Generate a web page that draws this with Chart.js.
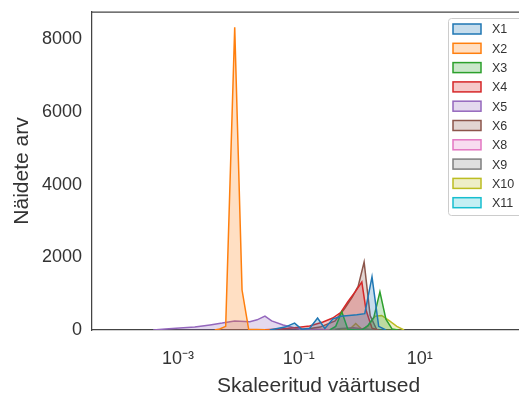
<!DOCTYPE html>
<html>
<head>
<meta charset="utf-8">
<script src="https://cdn.jsdelivr.net/npm/chart.js@4"></script>
<style>
  html, body { margin: 0; padding: 0; background: #fff; overflow: hidden; }
  #wrap { width: 519px; height: 394px; overflow: hidden; }
</style>
</head>
<body>
<div id="wrap"><canvas id="myChart" width="560" height="394"></canvas></div>
<script>
// series labels + colours (tab10)
var seriesLabels = ['X1', 'X2', 'X3', 'X4', 'X5', 'X6', 'X8', 'X9', 'X10', 'X11'];
var seriesColors = ['#1f77b4', '#ff7f0e', '#2ca02c', '#d62728', '#9467bd', '#8c564b', '#e377c2', '#7f7f7f', '#bcbd22', '#17becf'];

// x = scaled value (log axis), y = count
var x1X = [0.033, 0.059, 0.085, 0.112, 0.151, 0.204, 0.269, 0.363, 0.49, 0.676, 0.912, 1.23, 1.62, 2.09, 2.75];
var x1Y = [0, 80, 190, 20, 50, 330, 40, 300, 380, 400, 420, 450, 1460, 100, 0];

var x2X = [0.00407, 0.0049, 0.00617, 0.0087, 0.0115, 0.0148, 0.0204, 0.0275, 0.0398];
var x2Y = [0, 30, 100, 8330, 1100, 20, 15, 5, 0];

var x3X = [0.324, 0.407, 0.513, 0.646, 0.851, 1.10, 1.38, 1.74, 2.19, 2.75, 3.47, 4.37];
var x3Y = [0, 100, 500, 20, 0, 0, 120, 350, 1050, 300, 30, 0];

var x4X = [0.0155, 0.0275, 0.049, 0.085, 0.151, 0.251, 0.363, 0.49, 0.646, 0.851, 1.10, 1.29, 1.62, 2.09];
var x4Y = [0, 10, 30, 60, 110, 220, 330, 480, 780, 1050, 1320, 550, 50, 0];

var x5X = [0.00039, 0.00062, 0.00107, 0.0019, 0.0034, 0.0054, 0.0087, 0.0155, 0.0204, 0.0275, 0.0355, 0.055, 0.093, 0.151, 0.25];
var x5Y = [0, 30, 55, 80, 140, 190, 250, 230, 280, 380, 250, 140, 40, 5, 0];

var x6X = [0.105, 0.224, 0.398, 0.575, 0.759, 0.955, 1.20, 1.51, 1.95];
var x6Y = [0, 80, 250, 600, 900, 1200, 1870, 400, 0];

var x8X = [0.1, 0.2, 0.4];
var x8Y = [0, 20, 0];

var x9X = [0.3, 0.5, 0.8, 1.2, 1.8];
var x9Y = [0, 40, 60, 30, 0];

var x10X = [0.479, 0.692, 0.871, 1.10, 1.38, 1.82, 2.34, 3.16, 4.17, 5.50];
var x10Y = [0, 20, 180, 20, 100, 380, 400, 250, 100, 0];

var x11X = [0.5, 1.0, 2.0];
var x11Y = [0, 30, 0];

var seriesX = [x1X, x2X, x3X, x4X, x5X, x6X, x8X, x9X, x10X, x11X];
var seriesY = [x1Y, x2Y, x3Y, x4Y, x5Y, x6Y, x8Y, x9Y, x10Y, x11Y];

// ticks
var xTickValues = [0.001, 0.1, 10];
var xTickLabels = ['10\u207B\u00B3', '10\u207B\u00B9', '10\u00B9'];
var yTickValues = [0, 2000, 4000, 6000, 8000];

function hexA(hex, a) {
  var r = parseInt(hex.substr(1, 2), 16), g = parseInt(hex.substr(3, 2), 16), b = parseInt(hex.substr(5, 2), 16);
  return 'rgba(' + r + ',' + g + ',' + b + ',' + a + ')';
}

var datasets = [];
seriesLabels.forEach(function (lab, i) {
  var pts = [];
  seriesX[i].forEach(function (x, j) { pts.push({x: x, y: seriesY[i][j]}); });
  datasets.push({
    label: lab,
    data: pts,
    borderColor: seriesColors[i],
    backgroundColor: hexA(seriesColors[i], 0.25),
    borderWidth: 1.5,
    pointRadius: 0,
    tension: 0,
    fill: 'origin'
  });
});

const FONT = "'Liberation Sans', Arial, sans-serif";
const TXT = '#333333';

// top spine
const frameTop = {
  id: 'frameTop',
  afterDatasetsDraw(chart) {
    const ctx = chart.ctx, a = chart.chartArea;
    ctx.save();
    ctx.strokeStyle = '#444';
    ctx.lineWidth = 1.25;
    ctx.beginPath();
    ctx.moveTo(a.left, a.top);
    ctx.lineTo(a.right, a.top);
    ctx.stroke();
    ctx.restore();
  }
};

// matplotlib-like legend box, upper right
const legendBox = {
  id: 'legendBox',
  afterDraw(chart) {
    const ctx = chart.ctx, a = chart.chartArea;
    const x0 = a.right - 97, y0 = a.top + 6, w = 120, h = 197;
    ctx.save();
    ctx.fillStyle = 'rgba(255,255,255,0.8)';
    ctx.strokeStyle = '#cccccc';
    ctx.lineWidth = 1;
    ctx.beginPath();
    ctx.roundRect(x0 + 0.5, y0 + 0.5, w, h, 3);
    ctx.fill();
    ctx.stroke();
    ctx.font = '12.5px ' + FONT;
    ctx.textBaseline = 'middle';
    chart.data.datasets.forEach(function (ds, i) {
      const cy = y0 + 11 + i * 19.3;
      ctx.fillStyle = ds.backgroundColor;
      ctx.fillRect(x0 + 5, cy - 5, 28, 10);
      ctx.strokeStyle = ds.borderColor;
      ctx.lineWidth = 1.5;
      ctx.strokeRect(x0 + 5, cy - 5, 28, 10);
      ctx.fillStyle = TXT;
      ctx.fillText(ds.label, x0 + 44, cy + 1);
    });
    ctx.restore();
  }
};

const config = {
  type: 'line',
  data: { datasets: datasets },
  options: {
    responsive: false,
    animation: false,
    layout: { padding: { top: 12, right: 15, left: 0, bottom: 0 } },
    plugins: {
      legend: { display: false },
      tooltip: { enabled: false }
    },
    scales: {
      x: {
        type: 'logarithmic',
        min: 3.8e-5,
        max: 1175,
        grid: { display: false, drawTicks: false },
        border: { display: true, color: '#444', width: 1.25 },
        afterBuildTicks: function (scale) {
          scale.ticks = xTickValues.map(function (v) { return {value: v}; });
        },
        afterFit: function (scale) {
          scale.height = 64;
          scale.paddingLeft = 0;
          scale.paddingRight = 0;
        },
        ticks: {
          autoSkip: false,
          maxRotation: 0,
          padding: 18,
          color: TXT,
          font: { family: FONT, size: 18 },
          callback: function (v) {
            var k = xTickValues.indexOf(v);
            return k >= 0 ? xTickLabels[k] : '';
          }
        },
        title: {
          display: true,
          text: 'Skaleeritud väärtused',
          color: TXT,
          font: { family: FONT, size: 21, lineHeight: 1 },
          padding: { top: 0, bottom: -3 }
        }
      },
      y: {
        min: 0,
        max: 8750,
        grid: { display: false, drawTicks: false },
        border: { display: true, color: '#444', width: 1.25 },
        afterBuildTicks: function (scale) {
          scale.ticks = yTickValues.map(function (v) { return {value: v}; });
        },
        afterFit: function (scale) {
          scale.width = 92;
          scale.paddingTop = 0;
          scale.paddingBottom = 0;
        },
        ticks: {
          padding: 10,
          color: TXT,
          font: { family: FONT, size: 18 },
          callback: function (v) { return String(v); }
        },
        title: {
          display: true,
          text: 'Näidete arv',
          color: TXT,
          font: { family: FONT, size: 21, lineHeight: 1 },
          padding: { top: 12, bottom: 0 }
        }
      }
    }
  },
  plugins: [frameTop, legendBox]
};

const myChart = new Chart(document.getElementById('myChart'), config);
</script>
</body>
</html>
